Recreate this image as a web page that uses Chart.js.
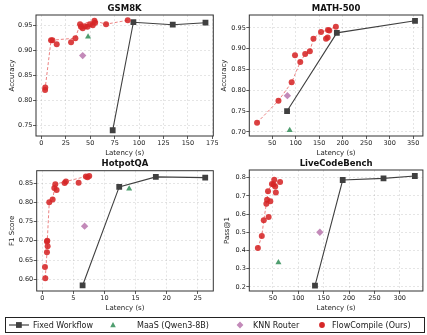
<!DOCTYPE html>
<html>
<head>
<meta charset="utf-8">
<script src="https://cdn.jsdelivr.net/npm/chart.js@4/dist/chart.umd.min.js"></script>
<style>
  html, body { margin: 0; padding: 0; background: #fff; }
  #fig { position: relative; width: 427px; height: 335px; overflow: hidden; font-family: "DejaVu Sans", sans-serif; }
  #fig canvas { position: absolute; }
  #legend { position: absolute; left: 5px; top: 317px; width: 420px; height: 16px; box-sizing: border-box;
            border: 1px solid #222; font-size: 8px; color: #1a1a1a; }
  .item { position: absolute; top: 0; height: 100%; display: flex; align-items: center; white-space: nowrap; }
  .item svg { display: block; }
</style>
</head>
<body>
<div id="fig">
  <canvas id="cGsm"  width="222" height="160" style="left:0;top:0"></canvas>
  <canvas id="cMath" width="215" height="160" style="left:212px;top:0"></canvas>
  <canvas id="cHot"  width="222" height="160" style="left:0;top:155px"></canvas>
  <canvas id="cLcb"  width="215" height="160" style="left:212px;top:155px"></canvas>
  <div id="legend">
    <div class="item" style="left:3px"><svg width="20" height="8"><line x1="0" y1="4" x2="20" y2="4" stroke="#404040" stroke-width="1.2"/><rect x="7" y="1.1" width="5.8" height="5.8" fill="#404040"/></svg></div>
    <div class="item" style="left:27px">Fixed Workflow</div>
    <div class="item" style="left:102px"><svg width="10" height="8"><polygon points="5,1 7.8,6.2 2.2,6.2" fill="#4f9e6f"/></svg></div>
    <div class="item" style="left:131px">MaaS (Qwen3-8B)</div>
    <div class="item" style="left:229px"><svg width="10" height="8"><polygon points="5,0.6 8.4,4 5,7.4 1.6,4" fill="#c38ab9"/></svg></div>
    <div class="item" style="left:247px">KNN Router</div>
    <div class="item" style="left:311px"><svg width="10" height="8"><circle cx="5" cy="4" r="2.9" fill="#d62728"/></svg></div>
    <div class="item" style="left:326px">FlowCompile (Ours)</div>
  </div>
</div>
<script>
// ---- GSM8K ----
const gsmFlowLatency = [3.8, 4.0, 9.9, 11.3, 15.7, 30.4, 34.8, 39.6, 40.6, 42.3, 44.7, 47.1, 49.8, 52.6, 54.3, 55.0, 66.2, 88.4];
const gsmFlowAcc     = [0.821, 0.826, 0.921, 0.921, 0.913, 0.917, 0.925, 0.953, 0.948, 0.945, 0.949, 0.948, 0.953, 0.951, 0.960, 0.956, 0.953, 0.961];
const gsmFrontier    = [0, 1, 2, 3, 6, 7, 14, 16, 17];
const gsmFixedLatency = [73, 94.2, 134.5, 168];
const gsmFixedAcc     = [0.740, 0.957, 0.952, 0.956];
const gsmMaas = [47.8, 0.928];
const gsmKnn  = [42.3, 0.890];
const gsmXTicks = [0, 25, 50, 75, 100, 125, 150, 175];
const gsmYTicks = [0.75, 0.80, 0.85, 0.90, 0.95];

// ---- MATH-500 ----
const mathFlowLatency = [17.7, 63.3, 91.4, 98.5, 109.7, 120.2, 130.1, 137.8, 153.9, 164.5, 168.0, 168.7, 171.5, 185.5];
const mathFlowAcc     = [0.722, 0.775, 0.819, 0.884, 0.868, 0.887, 0.894, 0.924, 0.940, 0.924, 0.927, 0.945, 0.944, 0.953];
const mathFrontier    = [0, 1, 2, 4, 5, 6, 7, 8, 11, 13];
const mathFixedLatency = [81.6, 187.6, 354];
const mathFixedAcc     = [0.750, 0.938, 0.967];
const mathMaas = [87.2, 0.704];
const mathKnn  = [82.3, 0.787];
const mathXTicks = [50, 100, 150, 200, 250, 300, 350];
const mathYTicks = [0.70, 0.75, 0.80, 0.85, 0.90, 0.95];

// ---- HotpotQA ----
const hotFlowLatency = [0.48, 0.43, 0.75, 0.86, 0.80, 0.75, 1.12, 1.66, 1.93, 2.09, 2.30, 3.59, 3.80, 5.84, 7.01, 7.28, 7.55];
const hotFlowF1      = [0.603, 0.632, 0.670, 0.686, 0.700, 0.698, 0.800, 0.807, 0.837, 0.847, 0.832, 0.850, 0.854, 0.851, 0.867, 0.865, 0.868];
const hotFrontier    = [0, 2, 3, 4, 6, 7, 9, 12, 14, 16];
const hotFixedLatency = [6.48, 12.37, 18.26, 26.2];
const hotFixedF1      = [0.584, 0.840, 0.866, 0.864];
const hotMaas = [13.97, 0.835];
const hotKnn  = [6.8, 0.738];
const hotXTicks = [0, 5, 10, 15, 20, 25];
const hotYTicks = [0.60, 0.65, 0.70, 0.75, 0.80, 0.85];

// ---- LiveCodeBench ----
const lcbFlowLatency = [20.4, 28.1, 32.0, 41.6, 37.1, 38.5, 44.9, 40.4, 48.1, 51.3, 52.6, 54.5, 55.8, 64.1];
const lcbFlowPass    = [0.414, 0.480, 0.566, 0.584, 0.657, 0.679, 0.670, 0.725, 0.765, 0.763, 0.789, 0.752, 0.718, 0.776];
const lcbFrontier    = [0, 1, 2, 4, 5, 7, 8, 10];
const lcbFixedLatency = [132.9, 187.5, 267.9, 329.6];
const lcbFixedPass    = [0.207, 0.787, 0.796, 0.809];
const lcbMaas = [60.9, 0.335];
const lcbKnn  = [142.5, 0.500];
const lcbXTicks = [50, 100, 150, 200, 250, 300];
const lcbYTicks = [0.2, 0.3, 0.4, 0.5, 0.6, 0.7, 0.8];

const FONT = '"DejaVu Sans", sans-serif';
const INK = '#1a1a1a';

// subplot title + full box frame around the plotting area
const panelDecor = {
  id: 'panelDecor',
  afterDraw(chart, args, opts) {
    const { ctx, chartArea: a } = chart;
    ctx.save();
    ctx.strokeStyle = '#333';
    ctx.lineWidth = 1;
    ctx.strokeRect(a.left, a.top, a.right - a.left, a.bottom - a.top);
    ctx.font = 'bold 8.5px ' + FONT;
    ctx.fillStyle = '#111';
    ctx.textAlign = 'center';
    ctx.textBaseline = 'middle';
    ctx.fillText(opts.text, (a.left + a.right) / 2, a.top - 6.5);
    ctx.restore();
  }
};

function toPoints(xs, ys) { return xs.map((x, i) => ({ x, y: ys[i] })); }

function makePanel(id, p) {
  const flow = toPoints(p.flowX, p.flowY);
  const frontier = p.frontier.map(i => flow[i]);
  const fixed = toPoints(p.fixedX, p.fixedY);
  new Chart(document.getElementById(id), {
    type: 'scatter',
    data: {
      datasets: [
        { label: 'FlowCompile (Ours)', data: flow, order: 0, showLine: false,
          pointRadius: 3.0, pointBorderWidth: 0, backgroundColor: 'rgba(214,39,40,0.88)' },
        { label: 'FlowCompile frontier', data: frontier, order: 1, showLine: true,
          borderColor: 'rgba(230,100,100,0.8)', borderWidth: 1, borderDash: [3, 2], pointRadius: 0 },
        { label: 'Fixed Workflow', data: fixed, order: 2, showLine: true,
          borderColor: '#404040', borderWidth: 1.1, pointStyle: 'rect', pointRadius: 4.1,
          pointBorderWidth: 0, backgroundColor: '#404040' },
        { label: 'MaaS (Qwen3-8B)', data: [{ x: p.maas[0], y: p.maas[1] }], order: 3,
          pointStyle: 'triangle', pointRadius: 3.5, pointBorderWidth: 0, backgroundColor: '#4f9e6f' },
        { label: 'KNN Router', data: [{ x: p.knn[0], y: p.knn[1] }], order: 4,
          pointStyle: 'rectRot', pointRadius: 3.7, pointBorderWidth: 0, backgroundColor: '#c38ab9' }
      ]
    },
    plugins: [panelDecor],
    options: {
      responsive: false,
      animation: false,
      devicePixelRatio: 1,
      layout: { padding: { left: 0, top: p.padTop, right: p.padRight, bottom: 0 } },
      plugins: {
        legend: { display: false },
        tooltip: { enabled: false },
        panelDecor: { text: p.title }
      },
      scales: {
        x: {
          type: 'linear', min: p.xMin, max: p.xMax,
          afterBuildTicks: s => { s.ticks = p.xTicks.map(v => ({ value: v })); },
          afterFit: s => { s.height = 24; s.paddingLeft = 0; s.paddingRight = 0; },
          ticks: { autoSkip: false, maxRotation: 0, padding: 0, color: INK,
                   font: { size: 6.5, family: FONT }, callback: v => String(v) },
          grid: { color: 'rgba(0,0,0,0.15)', lineWidth: 0.7, tickLength: 3, tickColor: '#333', tickWidth: 0.8 },
          border: { display: false, dash: [2, 2] },
          title: { display: true, text: 'Latency (s)', color: INK, font: { size: 7, family: FONT },
                   padding: { top: 0, bottom: 3.1 } }
        },
        y: {
          type: 'linear', min: p.yMin, max: p.yMax,
          afterBuildTicks: s => { s.ticks = p.yTicks.map(v => ({ value: v })); },
          afterFit: s => { s.width = p.yWidth; s.paddingTop = 0; s.paddingBottom = 0; },
          ticks: { autoSkip: false, padding: 0.5, color: INK,
                   font: { size: 6.5, family: FONT }, callback: v => v.toFixed(p.yDec) },
          grid: { color: 'rgba(0,0,0,0.15)', lineWidth: 0.7, tickLength: 3, tickColor: '#333', tickWidth: 0.8 },
          border: { display: false, dash: [2, 2] },
          title: { display: true, text: p.yLabel, color: INK, font: { size: 7, family: FONT },
                   padding: { top: p.yTitlePad, bottom: 0 } }
        }
      }
    }
  });
}

makePanel('cGsm', {
  title: 'GSM8K', yLabel: 'Accuracy', yDec: 2,
  flowX: gsmFlowLatency, flowY: gsmFlowAcc, frontier: gsmFrontier,
  fixedX: gsmFixedLatency, fixedY: gsmFixedAcc, maas: gsmMaas, knn: gsmKnn,
  xTicks: gsmXTicks, yTicks: gsmYTicks,
  xMin: -5.5, xMax: 176, yMin: 0.7285, yMax: 0.9715,
  padTop: 15, padRight: 8.7, yWidth: 36, yTitlePad: 7.5
});
makePanel('cMath', {
  title: 'MATH-500', yLabel: 'Accuracy', yDec: 2,
  flowX: mathFlowLatency, flowY: mathFlowAcc, frontier: mathFrontier,
  fixedX: mathFixedLatency, fixedY: mathFixedAcc, maas: mathMaas, knn: mathKnn,
  xTicks: mathXTicks, yTicks: mathYTicks,
  xMin: 1.2, xMax: 370.8, yMin: 0.690, yMax: 0.981,
  padTop: 15, padRight: 1.7, yWidth: 37.3, yTitlePad: 7.5
});
makePanel('cHot', {
  title: 'HotpotQA', yLabel: 'F1 Score', yDec: 2,
  flowX: hotFlowLatency, flowY: hotFlowF1, frontier: hotFrontier,
  fixedX: hotFixedLatency, fixedY: hotFixedF1, maas: hotMaas, knn: hotKnn,
  xTicks: hotXTicks, yTicks: hotYTicks,
  xMin: -0.9, xMax: 27.5, yMin: 0.5696, yMax: 0.882,
  padTop: 15.7, padRight: 8.7, yWidth: 36.7, yTitlePad: 7.5
});
makePanel('cLcb', {
  title: 'LiveCodeBench', yLabel: 'Pass@1', yDec: 1,
  flowX: lcbFlowLatency, flowY: lcbFlowPass, frontier: lcbFrontier,
  fixedX: lcbFixedLatency, fixedY: lcbFixedPass, maas: lcbMaas, knn: lcbKnn,
  xTicks: lcbXTicks, yTicks: lcbYTicks,
  xMin: 3.5, xMax: 345.5, yMin: 0.178, yMax: 0.842,
  padTop: 15, padRight: 1.7, yWidth: 37.3, yTitlePad: 10.8
});
</script>
</body>
</html>
